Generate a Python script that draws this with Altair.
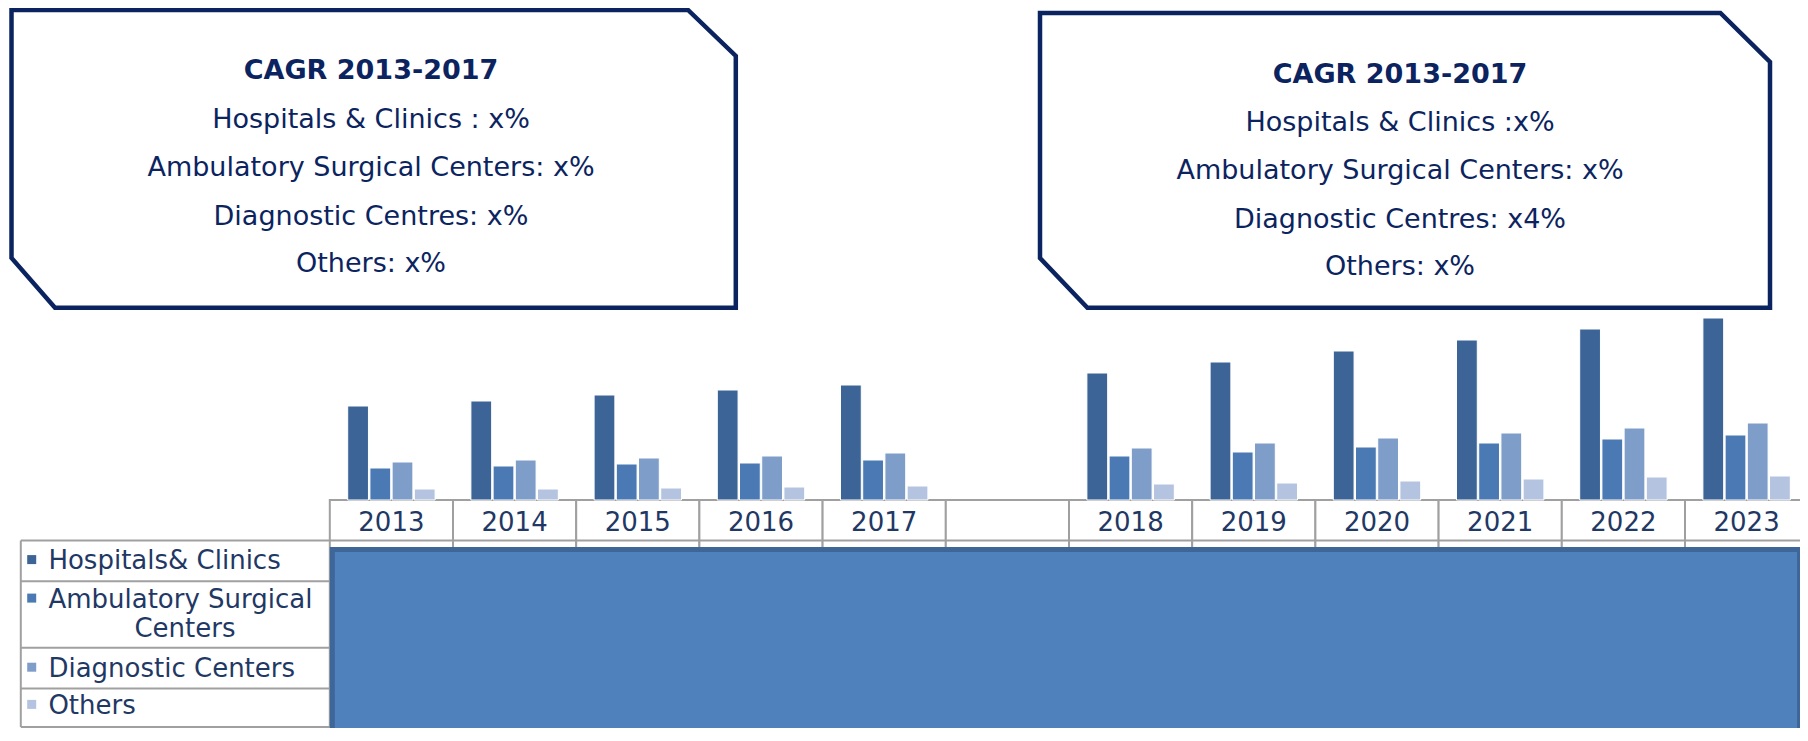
import altair as alt
import pandas as pd

# ---------------- data ----------------
YEARS = ["2013", "2014", "2015", "2016", "2017", "2018", "2019", "2020", "2021", "2022", "2023"]
GAP = " "
AXIS_YEARS = YEARS[:5] + [GAP] + YEARS[5:]
SERIES = ["Hospitals& Clinics", "Ambulatory Surgical Centers", "Diagnostic Centers", "Others"]
HOSPITALS = [94, 99, 105, 110, 115, 127, 138, 149, 160, 171, 182]
AMBULATORY = [32, 34, 36, 37, 40, 44, 48, 53, 57, 61, 65]
DIAGNOSTIC = [38, 40, 42, 44, 47, 52, 57, 62, 67, 72, 77]
OTHERS = [11, 11, 12, 13, 14, 16, 17, 19, 21, 23, 24]

LEFT_TITLE = "CAGR 2013-2017"
LEFT_LINES = ["Hospitals & Clinics : x%", "Ambulatory Surgical Centers: x%",
              "Diagnostic Centres: x%", "Others: x%"]
RIGHT_TITLE = "CAGR 2013-2017"
RIGHT_LINES = ["Hospitals & Clinics :x%", "Ambulatory Surgical Centers: x%",
               "Diagnostic Centres: x4%", "Others: x%"]
LEGEND_FIRST_LINES = ["Hospitals& Clinics", "Ambulatory Surgical", "Diagnostic Centers", "Others"]
LEGEND_WRAP = "Centers"

# ---------------- styles / layout ----------------
COLORS = ["#3C6496", "#4A79B3", "#7F9DC9", "#B4C3DF"]
NAVY = "#0B2460"
TEXT = "#1F3864"
GRID = "#A0A0A0"
FONT = "DejaVu Sans"

W, H = 1792, 720
BAND_RANGE = [321.8, 1800.2]
BASE = 492
HDR_TOP, HDR_BOT = 492, 532.5
ROW_LINES = [532.5, 573.2, 639.7, 680.4, 719]
TABLE_LEFT = 12.8
LEG_TEXT_X = 40.4
LEG_WRAP_X = 177
LEG_BASELINES = [561.1, 599.6, 668.7, 705.9]
LEG_WRAP_BASELINE = 629
LEG_SQ_X = 23.7
YEAR_BASELINE = 523.3

LEFT_CX, RIGHT_CX = 363, 1392
LEFT_BASELINES = [71.3, 120, 168, 216.7, 264]
RIGHT_BASELINES = [75, 123.3, 171.3, 219.7, 267.3]
BOX_LEFT_PTS = [(3.5, 2), (680, 2), (727.8, 48), (727.8, 299.8), (47, 299.8), (3.5, 250), (3.5, 2)]
BOX_RIGHT_PTS = [(1032, 5), (1712.4, 5), (1762, 54), (1762, 299.8), (1079.4, 299.8), (1032, 250), (1032, 5)]

PXX = alt.Scale(domain=[0, W], range=[0, W], zero=False, nice=False)
PXY = alt.Scale(domain=[0, H], range=[0, H], zero=False, nice=False)
BAND = alt.Scale(domain=AXIS_YEARS, range=BAND_RANGE, paddingInner=0, paddingOuter=0)

# ---------------- tables ----------------
vals = [HOSPITALS, AMBULATORY, DIAGNOSTIC, OTHERS]
bars_df = pd.DataFrame([
    {"year": y, "series": s, "value": v[i]}
    for s, v in zip(SERIES, vals) for i, y in enumerate(YEARS)
])
cells_df = pd.DataFrame({"year": AXIS_YEARS, "label": [y if y != GAP else "" for y in AXIS_YEARS]})
rows_df = pd.DataFrame({"y": ROW_LINES})
one = pd.DataFrame({"k": [0]})

pts = []
for name, P in (("L", BOX_LEFT_PTS), ("R", BOX_RIGHT_PTS)):
    for i, (x, y) in enumerate(P):
        pts.append({"box": name, "i": i, "x": x, "y": y})
box_df = pd.DataFrame(pts)

box_text = []
for cx, title, lines, bl in ((LEFT_CX, LEFT_TITLE, LEFT_LINES, LEFT_BASELINES),
                             (RIGHT_CX, RIGHT_TITLE, RIGHT_LINES, RIGHT_BASELINES)):
    box_text.append({"x": cx, "y": bl[0], "t": title, "bold": True})
    for line, b in zip(lines, bl[1:]):
        box_text.append({"x": cx, "y": b, "t": line, "bold": False})
box_text_df = pd.DataFrame(box_text)

leg_df = pd.DataFrame({"series": SERIES, "t": LEGEND_FIRST_LINES, "y": LEG_BASELINES,
                       "sq": [b - 9.5 for b in LEG_BASELINES]})
wrap_df = pd.DataFrame({"t": [LEGEND_WRAP], "y": [LEG_WRAP_BASELINE]})

# ---------------- layers ----------------
cells = alt.Chart(cells_df).mark_rect(fill="white", stroke=GRID, strokeWidth=2).encode(
    x=alt.X("year:N", scale=BAND, axis=None),
    y=alt.value(HDR_TOP), y2=alt.value(H + 20))

rows = alt.Chart(rows_df).mark_rule(color=GRID, strokeWidth=2).encode(
    y=alt.Y("y:Q", scale=PXY, axis=None),
    x=alt.value(TABLE_LEFT), x2=alt.value(W))

leftborder = alt.Chart(one).mark_rule(color=GRID, strokeWidth=2).encode(
    x=alt.value(TABLE_LEFT), y=alt.value(HDR_BOT), y2=alt.value(ROW_LINES[-1]))

bluerect = alt.Chart(one).mark_rect(fill="#4F81BD", stroke="#3E6699", strokeWidth=5).encode(
    x=alt.value(324.3), x2=alt.value(1791.5), y=alt.value(541.5), y2=alt.value(H + 20))

bars = alt.Chart(bars_df).mark_bar(stroke="white", strokeWidth=1).encode(
    x=alt.X("year:N", scale=BAND, axis=None),
    xOffset=alt.XOffset("series:N", scale=alt.Scale(domain=SERIES, paddingInner=0.065, paddingOuter=0.806)),
    y=alt.Y("value:Q", scale=alt.Scale(domain=[0, 200], range=[BASE, BASE - 200]), axis=None),
    color=alt.Color("series:N", scale=alt.Scale(domain=SERIES, range=COLORS), legend=None))

year_text = alt.Chart(cells_df).mark_text(font=FONT, fontSize=26, color=TEXT, baseline="alphabetic").encode(
    x=alt.X("year:N", scale=BAND, axis=None), y=alt.value(YEAR_BASELINE), text="label:N")

leg_sq = alt.Chart(leg_df).mark_square(size=81, opacity=1).encode(
    x=alt.value(LEG_SQ_X), y=alt.Y("sq:Q", scale=PXY, axis=None),
    color=alt.Color("series:N", scale=alt.Scale(domain=SERIES, range=COLORS), legend=None))

leg_text = alt.Chart(leg_df).mark_text(font=FONT, fontSize=26, color=TEXT, align="left",
                                       baseline="alphabetic").encode(
    x=alt.value(LEG_TEXT_X), y=alt.Y("y:Q", scale=PXY, axis=None), text="t:N")

wrap_text = alt.Chart(wrap_df).mark_text(font=FONT, fontSize=26, color=TEXT, align="center",
                                         baseline="alphabetic").encode(
    x=alt.value(LEG_WRAP_X), y=alt.Y("y:Q", scale=PXY, axis=None), text="t:N")

boxes = alt.Chart(box_df).mark_line(color=NAVY, strokeWidth=4.5, strokeJoin="miter", strokeCap="square").encode(
    x=alt.X("x:Q", scale=PXX, axis=None), y=alt.Y("y:Q", scale=PXY, axis=None),
    detail="box:N", order="i:Q")

box_titles = alt.Chart(box_text_df).transform_filter("datum.bold").mark_text(
    font=FONT, fontSize=27, fontWeight="bold", color=NAVY, baseline="alphabetic").encode(
    x=alt.X("x:Q", scale=PXX, axis=None), y=alt.Y("y:Q", scale=PXY, axis=None), text="t:N")

box_lines = alt.Chart(box_text_df).transform_filter("!datum.bold").mark_text(
    font=FONT, fontSize=27, color=NAVY, baseline="alphabetic").encode(
    x=alt.X("x:Q", scale=PXX, axis=None), y=alt.Y("y:Q", scale=PXY, axis=None), text="t:N")

chart = alt.layer(
    cells, rows, leftborder, bluerect, bars, year_text, leg_sq, leg_text, wrap_text,
    boxes, box_titles, box_lines
).resolve_scale(
    x="independent", y="independent", color="independent"
).properties(
    width=W, height=H, padding=0, autosize=alt.AutoSizeParams(type="none"), background="white"
).configure_view(stroke=None)

chart.save("out.html", embed_options={"renderer": "svg", "actions": False})
